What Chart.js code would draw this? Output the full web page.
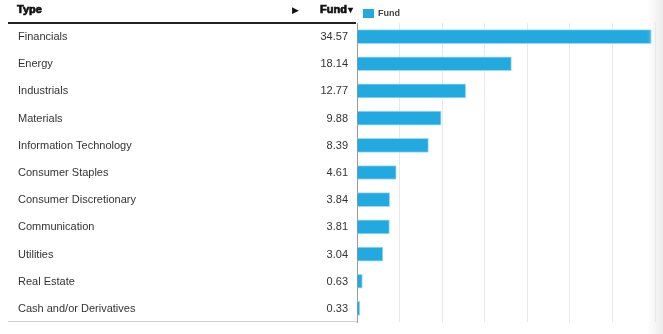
<!DOCTYPE html>
<html>
<head>
<meta charset="utf-8">
<script src="https://cdn.jsdelivr.net/npm/chart.js@4/dist/chart.umd.min.js"></script>
<style>
  html, body { margin: 0; padding: 0; background: #fff; }
  #wrap { position: relative; width: 663px; height: 334px; }
  #haze { position: absolute; right: 0; top: 0; width: 16px; height: 334px;
          background: linear-gradient(to right, rgba(240,240,240,0), rgba(232,232,232,0.8)); pointer-events: none; }
</style>
</head>
<body>
<div id="wrap">
  <canvas id="sectorChart" width="663" height="334"></canvas>
  <div id="haze"></div>
</div>
<script>
// Sector weights of the fund (%)
const sectors = ['Financials', 'Energy', 'Industrials', 'Materials', 'Information Technology',
    'Consumer Staples', 'Consumer Discretionary', 'Communication', 'Utilities', 'Real Estate',
    'Cash and/or Derivatives'];
const fundWeights = [34.57, 18.14, 12.77, 9.88, 8.39, 4.61, 3.84, 3.81, 3.04, 0.63, 0.33];
const seriesName = 'Fund';
const headerType = 'Type';
const axisMax = 35;
const axisStep = 5;

const barColor = '#22aae0';
const textFont = '"Liberation Sans", Arial, sans-serif';

// Draws the table part on the left: header, row labels, values and the legend
const tablePlugin = {
    id: 'tablePlugin',
    afterDraw(chart) {
        const ctx = chart.ctx;
        const area = chart.chartArea;
        const yScale = chart.scales.y;
        const meta = chart.getDatasetMeta(0);
        ctx.save();

        // header (stroked a little to get the heavy look)
        ctx.fillStyle = '#111';
        ctx.strokeStyle = '#111';
        ctx.lineWidth = 0.7;
        ctx.font = 'bold 11px ' + textFont;
        ctx.textBaseline = 'middle';
        ctx.textAlign = 'left';
        ctx.fillText(headerType, 17, 10);
        ctx.strokeText(headerType, 17, 10);
        ctx.textAlign = 'right';
        ctx.fillText(seriesName, 347, 10);
        ctx.strokeText(seriesName, 347, 10);
        ctx.font = 'bold 10px ' + textFont;
        ctx.textAlign = 'left';
        ctx.fillText('\u25BE', 348, 10);
        ctx.font = '9px ' + textFont;
        ctx.textAlign = 'center';
        ctx.fillText('\u25B6', 295, 11);

        // header rule
        ctx.fillStyle = '#222';
        ctx.fillRect(8, 22, 348, 2);
        // bottom rule
        ctx.fillStyle = '#cfcfcf';
        ctx.fillRect(8, area.bottom - 1, area.left - 8, 1);

        // rows
        ctx.font = '11px ' + textFont;
        ctx.fillStyle = '#333';
        sectors.forEach((name, i) => {
            const y = yScale.getPixelForValue(i) + 0.5;
            ctx.textAlign = 'left';
            ctx.fillText(name, 18, y);
            ctx.textAlign = 'right';
            ctx.fillText(fundWeights[i].toFixed(2), 348, y);
        });

        // legend
        ctx.fillStyle = barColor;
        ctx.fillRect(363, 9, 11, 9);
        ctx.fillStyle = '#444';
        ctx.font = 'bold 9px ' + textFont;
        ctx.textAlign = 'left';
        ctx.fillText(chart.data.datasets[0].label, 378, 13.5);
        ctx.restore();
    }
};

const ctx = document.getElementById('sectorChart').getContext('2d');
const sectorChart = new Chart(ctx, {
    type: 'bar',
    data: {
        labels: sectors,
        datasets: [{
            label: seriesName,
            data: fundWeights,
            backgroundColor: barColor,
            borderColor: '#9fdaf2',
            borderWidth: 1,
            borderSkipped: 'left',
            barThickness: 14
        }]
    },
    options: {
        indexAxis: 'y',
        responsive: false,
        animation: false,
        layout: { padding: { left: 357, top: 23, right: 8, bottom: 12 } },
        plugins: {
            legend: { display: false },
            tooltip: { enabled: false }
        },
        scales: {
            x: {
                min: 0,
                max: axisMax,
                ticks: { display: false, stepSize: axisStep },
                grid: { color: '#e8e8e8', drawTicks: false },
                border: { display: false },
                afterFit: s => { s.height = 0; }
            },
            y: {
                ticks: { display: false },
                grid: { display: false, drawTicks: false },
                border: { display: true, color: '#9a9a9a', width: 1 },
                afterFit: s => { s.width = 0; }
            }
        }
    },
    plugins: [tablePlugin]
});
</script>
</body>
</html>
